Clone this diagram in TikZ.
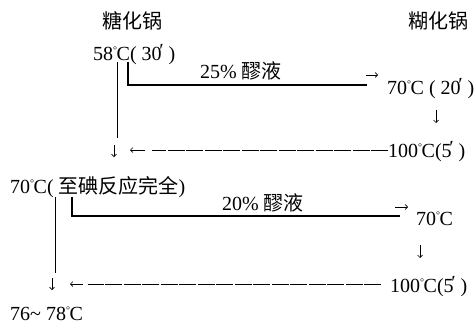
\documentclass[tikz,border=0pt]{standalone}
\usepackage{fontspec}
\setmainfont{Liberation Serif}
\newfontfamily\cjk{Noto Sans CJK SC}
\usetikzlibrary{arrows.meta}
\newcommand{\degc}{\raisebox{6.5pt}{\fontsize{10}{10}\selectfont °}\kern-0.5pt C}
\newcommand{\mnt}{\kern-0.12em\raisebox{3pt}{′}}
\tikzset{
  txt/.style={anchor=base west,inner sep=0pt,font=\fontsize{20}{20}\selectfont},
  thinline/.style={line width=0.8pt},
  feed/.style={line width=2.8pt},
  smallarr/.style={line width=0.7pt,-{Straight Barb[length=2.5pt,width=5pt]}},
  back/.style={line width=0.9pt,dash pattern=on 17pt off 1.5pt}
}
\begin{document}
\begin{tikzpicture}[x=1pt,y=-1pt]
\useasboundingbox (0,0) rectangle (474,324);
% kettles
\node[txt] (tang) at (102,28.5) {\cjk 糖化锅};
\node[txt] (hu) at (408,28.5) {\cjk 糊化锅};
% temperatures
\node[txt] (t58) at (93,60) {58\degc( 30\mnt\ )};
\node[txt] (h70) at (387,94) {70\degc\ ( 20\mnt\ )};
\node[txt] (h100) at (388,157) {100\degc(5\mnt\ )};
\node[txt] (t70) at (10,193) {70\degc( {\cjk 至碘反应完全})};
\node[txt] (h70b) at (416,225) {70\degc};
\node[txt] (h100b) at (390,292) {100\degc(5\mnt\ )};
\node[txt] (t76) at (10,320) {76\textasciitilde\ 78\degc};
% mash
\node[txt] (lab1) at (200,78) {25\% {\cjk 醪液}};
\node[txt] (lab2) at (222,210) {20\% {\cjk 醪液}};
% first step
\coordinate (a1) at (117,62); \coordinate (a2) at (117,138);
\coordinate (f1) at (128,62); \coordinate (f2) at (128,85); \coordinate (f3) at (367,85);
\coordinate (r1) at (366,75); \coordinate (r2) at (378,75);
\coordinate (d1) at (436,110); \coordinate (d2) at (436,123);
\coordinate (l1) at (145,150); \coordinate (l2) at (130,150);
\coordinate (b1) at (152,150);
\coordinate (v1) at (114,145); \coordinate (v2) at (114,157);
\draw[thinline] (a1) -- (a2);
\draw[feed] (f1) -- (f2) -- (f3);
\draw[smallarr] (r1) -- (r2);
\draw[smallarr] (d1) -- (d2);
\draw[back] (h100.west |- b1) -- (b1);
\draw[smallarr] (l1) -- (l2);
\draw[smallarr] (v1) -- (v2);
% second step
\coordinate (a3) at (55,197); \coordinate (a4) at (55,273);
\coordinate (f4) at (72,197); \coordinate (f5) at (72,216); \coordinate (f6) at (400,216);
\coordinate (r3) at (395,207); \coordinate (r4) at (408,207);
\coordinate (d3) at (420,245); \coordinate (d4) at (420,258);
\coordinate (l3) at (83,284); \coordinate (l4) at (70,284);
\coordinate (b2) at (88,284); \coordinate (b3) at (381,284);
\coordinate (v3) at (52,278); \coordinate (v4) at (52,290);
\draw[thinline] (a3) -- (a4);
\draw[feed] (f4) -- (f5) -- (f6);
\draw[smallarr] (r3) -- (r4);
\draw[smallarr] (d3) -- (d4);
\draw[back] (b3) -- (b2);
\draw[smallarr] (l3) -- (l4);
\draw[smallarr] (v3) -- (v4);
\end{tikzpicture}
\end{document}
